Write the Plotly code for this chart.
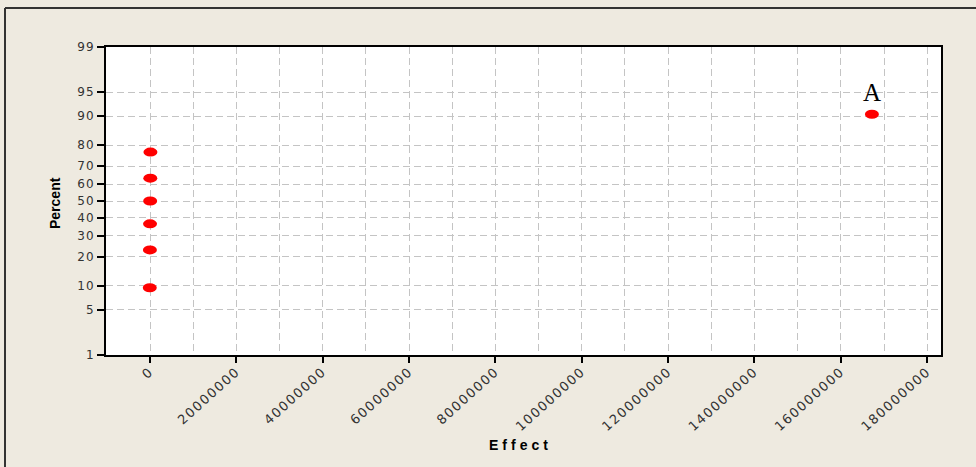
import statistics
import plotly.graph_objects as go

# Normal probability plot of effects
effect_names = ["", "", "", "", "", "", "A"]
effects = [-60000, -30000, 0, 30000, 60000, 90000, 167200000]
percents = [9.5, 23.0, 36.5, 50.0, 63.5, 77.0, 90.5]

y_tick_percents = [1, 5, 10, 20, 30, 40, 50, 60, 70, 80, 90, 95, 99]
x_tick_values = [0, 20000000, 40000000, 60000000, 80000000, 100000000,
                 120000000, 140000000, 160000000, 180000000]

W, H = 976, 467
M_L, M_R, M_T, M_B = 106, 35, 47, 112
X_RANGE = [-10200000, 183200000]

nd = statistics.NormalDist()


def prob_z(p):
    return nd.inv_cdf(p / 100.0)


Y_RANGE = [prob_z(1), prob_z(99)]
z_vals = [prob_z(p) for p in percents]

plot_w = W - M_L - M_R
plot_h = H - M_T - M_B
x_per_px = (X_RANGE[1] - X_RANGE[0]) / plot_w
y_per_px = (Y_RANGE[1] - Y_RANGE[0]) / plot_h

BG = "#EEEAE0"
GRID = "#C4C4C4"
X_TICK_FONT = dict(family="DejaVu Sans", size=13, color="#333333")
Y_TICK_FONT = dict(family="DejaVu Sans", size=12, color="#333333")

fig = go.Figure()
fig.add_trace(go.Scatter(
    x=effects, y=z_vals, mode="markers",
    marker=dict(color="red", size=13, opacity=0),
    customdata=percents,
    hovertemplate="Effect: %{x}<br>Percent: %{customdata}<extra></extra>",
    showlegend=False,
))

# elliptical markers, 14 x 9 px
hw, hh = 7 * x_per_px, 4.5 * y_per_px
shapes = []
for ex, ez in zip(effects, z_vals):
    shapes.append(dict(type="circle", xref="x", yref="y",
                       x0=ex - hw, x1=ex + hw, y0=ez - hh, y1=ez + hh,
                       fillcolor="#FF0000", line=dict(width=0), layer="above"))

# panel border (top and left edges)
bx = (5 - M_L) / plot_w
by = (H - M_B - 8) / plot_h
shapes.append(dict(type="line", xref="paper", yref="paper",
                   x0=bx, x1=bx, y0=by, y1=-1, line=dict(color="#333333", width=2)))
shapes.append(dict(type="line", xref="paper", yref="paper",
                   x0=bx, x1=2, y0=by, y1=by, line=dict(color="#333333", width=2)))

annotations = []
for name, ex, ez in zip(effect_names, effects, z_vals):
    if name:
        annotations.append(dict(x=ex, y=ez, xref="x", yref="y", text=name,
                                showarrow=False, yshift=22,
                                font=dict(family="Liberation Serif", size=25, color="black")))

annotations.append(dict(x=(520 - M_L) / plot_w, y=-(445 - (H - M_B)) / plot_h,
                        xref="paper", yref="paper", xanchor="center", yanchor="middle",
                        text="<b>Effect</b>", showarrow=False,
                        font=dict(family="Liberation Sans", size=14, color="black")))
annotations.append(dict(x=(55 - M_L) / plot_w, y=(H - M_B - 203) / plot_h,
                        xref="paper", yref="paper", xanchor="center", yanchor="middle",
                        text="<b>Percent</b>", showarrow=False, textangle=-90,
                        font=dict(family="Liberation Sans", size=14, color="black")))

fig.update_layout(
    width=W, height=H,
    margin=dict(l=M_L, r=M_R, t=M_T, b=M_B),
    paper_bgcolor=BG, plot_bgcolor="white",
    shapes=shapes, annotations=annotations,
    xaxis=dict(
        range=X_RANGE, tickvals=x_tick_values,
        ticktext=[str(v) for v in x_tick_values], tickangle=-42,
        ticks="outside", ticklen=6, tickwidth=1.5, tickcolor="black",
        tickfont=X_TICK_FONT, ticklabelstandoff=-4,
        showline=True, linecolor="black", linewidth=2, mirror=True,
        showgrid=True, gridcolor=GRID, griddash="7px,4px", gridwidth=1,
        minor=dict(dtick=10000000, tick0=0, showgrid=True, gridcolor=GRID,
                   griddash="7px,4px", gridwidth=1, ticks=""),
        zeroline=False,
    ),
    yaxis=dict(
        range=Y_RANGE, tickvals=[prob_z(p) for p in y_tick_percents],
        ticktext=[str(p) for p in y_tick_percents],
        ticks="outside", ticklen=7, tickwidth=1.5, tickcolor="black",
        tickfont=Y_TICK_FONT,
        showline=True, linecolor="black", linewidth=2, mirror=True,
        showgrid=True, gridcolor=GRID, griddash="7px,4px", gridwidth=1,
        zeroline=False,
    ),
)

# widen the letter spacing of tick labels and the x-axis title
spacing_js = """
var gd = document.getElementById('{plot_id}');
function applySpacing() {
    gd.querySelectorAll('.xtick text').forEach(function (t) { t.style.letterSpacing = '1.5px'; });
    gd.querySelectorAll('.ytick text').forEach(function (t) { t.style.letterSpacing = '1px'; });
    gd.querySelectorAll('.annotation-text').forEach(function (t) {
        if (t.textContent === 'Effect') { t.style.letterSpacing = '4px'; }
    });
}
applySpacing();
gd.on('plotly_afterplot', applySpacing);
"""

fig.write_html("out.html", post_script=spacing_js)
